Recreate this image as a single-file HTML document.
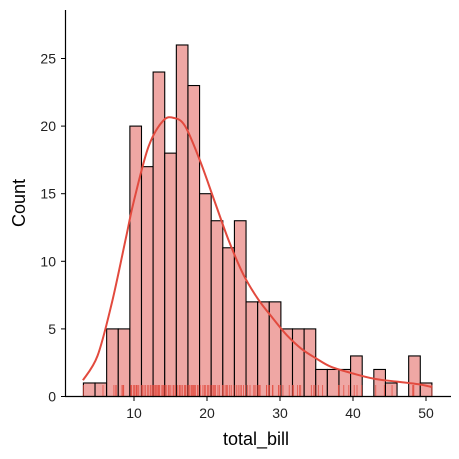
<!DOCTYPE html>
<html><head><meta charset="utf-8"><style>
html,body{margin:0;padding:0;background:#fff;}
svg{display:block;font-family:"Liberation Sans","DejaVu Sans",sans-serif;}
</style></head><body>
<svg id="chart" width="459" height="459" viewBox="0 0 459 459" xmlns="http://www.w3.org/2000/svg">
<g id="bars"></g>
<g id="rug"></g>
<path id="kde" fill="none" stroke="#e24a3e" stroke-width="2"/>
<g id="axes"></g>
<text x="256" y="445" font-size="18" text-anchor="middle" fill="#000">total_bill</text>
<text transform="translate(25,203) rotate(-90)" font-size="18" text-anchor="middle" fill="#000">Count</text>
</svg>
<script>
const binStart = 3.07;
const binWidth = 1.5913;
const counts = [1,1,5,5,20,17,24,18,26,23,15,13,11,13,7,7,7,5,5,5,2,2,2,3,0,2,1,0,3,1];
const kdeX = [3,5,7,9,10,12,14,15.5,17,19,21,23,25,27,29,31,33,35,37,40,43,46,49,50.8];
const kdeY = [1.2,3,7,12,14.5,18.5,20.4,20.6,20,17.5,14.5,11.5,9,7.2,5.8,4.5,3.5,2.8,2.2,1.7,1.3,1.1,0.9,0.7];
const rugValues = [3.07,5.75,7.25,7.51,7.56,8.35,8.51,8.52,8.58,9.55,9.6,9.68,9.94,10.07,10.27,10.33,10.34,10.51,10.65,11.02,11.17,11.38,11.59,11.87,12.03,12.26,12.46,12.6,12.74,12.9,13.0,13.13,13.28,13.39,13.42,13.51,13.81,13.94,14.07,14.15,14.31,14.48,14.73,14.83,15.04,15.36,15.48,15.69,15.98,16.21,16.29,16.45,16.66,16.93,16.99,17.07,17.29,17.46,17.59,17.81,17.92,18.04,18.15,18.29,18.43,18.71,18.78,19.08,19.44,19.65,19.81,20.08,20.23,20.45,20.65,20.69,20.9,21.01,21.16,21.5,21.7,22.12,22.23,22.49,22.67,22.82,23.1,23.33,23.68,24.01,24.27,24.52,24.71,25.0,25.28,25.56,25.89,26.41,26.59,26.88,27.05,27.2,27.28,28.15,28.17,28.44,28.55,28.97,29.03,29.8,29.85,30.06,30.4,31.27,31.71,31.85,32.4,32.68,32.83,34.3,34.63,34.81,35.26,35.83,38.01,38.07,38.73,39.42,40.17,40.55,41.19,43.11,44.3,45.35,48.17,48.27,48.33,50.81];
const xTicks = [10,20,30,40,50];
const yTicks = [0,5,10,15,20,25];

const NS = "http://www.w3.org/2000/svg";
const X = v => 134 + (v - 10) * 7.3;
const Y = v => 396.5 - v * 13.52;
function mk(tag, attrs, parent){const e=document.createElementNS(NS,tag);for(const k in attrs)e.setAttribute(k,attrs[k]);parent.appendChild(e);return e;}

const bars = document.getElementById('bars');
counts.forEach((c,i)=>{
  if(c<=0) return;
  const x0 = X(binStart + i*binWidth), x1 = X(binStart + (i+1)*binWidth);
  const r = mk('rect',{x:x0,y:Y(c),width:x1-x0,height:Y(0)-Y(c),fill:'#efa7a4',stroke:'#000','stroke-width':1.1},bars);
  
  
});
const rug = document.getElementById('rug');
rugValues.forEach(v=>{
  const l = mk('line',{x1:X(v),x2:X(v),y1:385,y2:396,stroke:'#e24a3e','stroke-width':1,opacity:0.75},rug);
  
  
});
// smooth curve via Catmull-Rom
const pts = kdeX.map((v,i)=>[X(v),Y(kdeY[i])]);
let d = 'M'+pts[0][0].toFixed(1)+','+pts[0][1].toFixed(1);
for(let i=0;i<pts.length-1;i++){
  const p0=pts[Math.max(0,i-1)],p1=pts[i],p2=pts[i+1],p3=pts[Math.min(pts.length-1,i+2)];
  const c1=[p1[0]+(p2[0]-p0[0])/6,p1[1]+(p2[1]-p0[1])/6];
  const c2=[p2[0]-(p3[0]-p1[0])/6,p2[1]-(p3[1]-p1[1])/6];
  d+='C'+c1.map(n=>n.toFixed(1)).join(',')+' '+c2.map(n=>n.toFixed(1)).join(',')+' '+p2.map(n=>n.toFixed(1)).join(',');
}
document.getElementById('kde').setAttribute('d',d);

const axes = document.getElementById('axes');
mk('line',{x1:65.5,x2:65.5,y1:10,y2:397,stroke:'#000','stroke-width':1.2},axes);
mk('line',{x1:65,x2:451,y1:396.5,y2:396.5,stroke:'#000','stroke-width':1.2},axes);
xTicks.forEach(t=>{
  mk('line',{x1:X(t),x2:X(t),y1:396.5,y2:401,stroke:'#000'},axes);
  const tx = mk('text',{x:X(t),y:418,'font-size':14,'text-anchor':'middle',fill:'#222'},axes);
  tx.textContent=t;
  
  
});
yTicks.forEach(t=>{
  mk('line',{x1:61,x2:65.5,y1:Y(t),y2:Y(t),stroke:'#000'},axes);
  const tx = mk('text',{x:56,y:Y(t)+5,'font-size':14,'text-anchor':'end',fill:'#222'},axes);
  tx.textContent=t;
  
  
});
</script>
</body></html>
